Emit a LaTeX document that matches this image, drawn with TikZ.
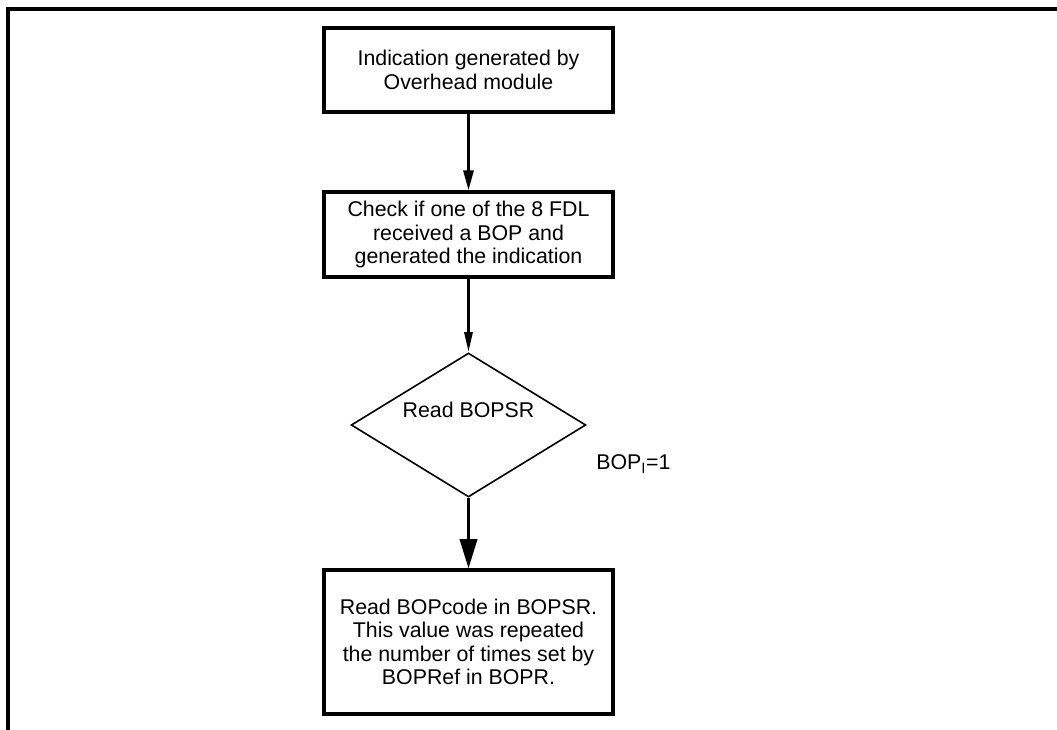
\documentclass[tikz,border=0pt]{standalone}
\usepackage{fontspec}
\setmainfont{Liberation Sans}
\usetikzlibrary{shapes.geometric,arrows.meta}
\begin{document}
\begin{tikzpicture}[x=0.75pt,y=-0.75pt,
  txt/.style={font=\fontsize{16}{17.5}\selectfont},
  stepbox/.style={draw, line width=2.4pt, rectangle, minimum width=216.75pt, inner sep=0pt, align=center, txt},
  decision/.style={draw, line width=1.2pt, diamond, minimum width=176pt, minimum height=108pt, inner sep=0pt},
  flow/.style={line width=2.2pt},
  frameline/.style={line width=2.4pt}]
\useasboundingbox (0,0) rectangle (1057,730);
\coordinate (ftl) at (8,9);
\coordinate (ftr) at (1057,9);
\coordinate (fbl) at (8,730);
\draw[frameline] (ftr) -- (ftl) -- (fbl);
\node[stepbox, minimum height=63pt] (b1) at (468.5,70) {Indication generated by\\Overhead module};
\node[stepbox, minimum height=63.75pt] (b2) at (468.5,234.5) {Check if one of the 8 FDL\\received a BOP and\\generated the indication};
\node[decision] (d) at (468.5,425) {};
\node[txt] (dt) at (468.5,410) {Read BOPSR};
\node[stepbox, minimum height=108pt] (b3) at (468.5,642) {Read BOPcode in BOPSR.\\This value was repeated\\the number of times set by\\BOPRef in BOPR.};
\node[anchor=west, txt, inner sep=0pt] (lab) at (596,464) {BOP\textsubscript{I}=1};
\draw[flow, -{Triangle[length=15pt,width=7.5pt]}] (b1.south) -- (b2.north);
\draw[flow, -{Triangle[length=15pt,width=6pt]}] (b2.south) -- (d.north);
\draw[flow, -{Triangle[length=22pt,width=13pt]}] (d.south) -- (b3.north);
\end{tikzpicture}
\end{document}
